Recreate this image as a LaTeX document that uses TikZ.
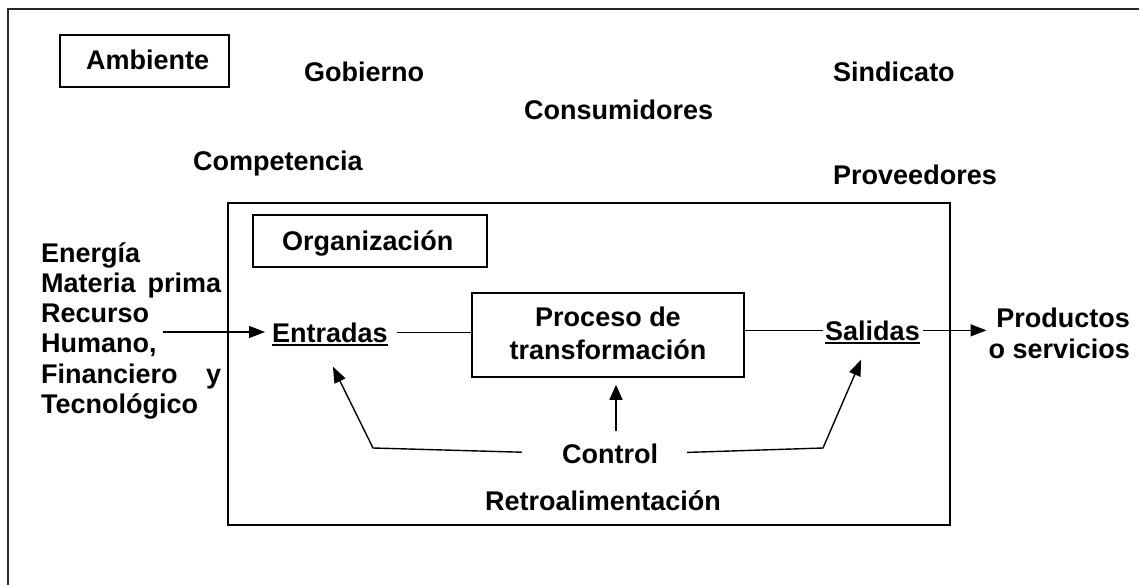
\documentclass[tikz,border=0pt]{standalone}
\usepackage{fontspec}
\setmainfont{Liberation Sans}
\usetikzlibrary{arrows.meta}
\begin{document}
\begin{tikzpicture}[x=1pt,y=-1pt,
  txt/.style={inner sep=0pt, font=\fontsize{27}{31}\selectfont\bfseries},
  box/.style={draw, line width=1.6pt, inner sep=0pt},
  ln/.style={line width=1.4pt},
  arr/.style={ln, -{Triangle[length=16pt,width=12pt]}},
  uline/.style={line width=2pt}]
\useasboundingbox (0,0) rectangle (1139,585);
% outer frame (only top and left visible)
\draw[line width=2pt, black!85] (8,585) -- (8,9) -- (1139,9);

% Ambiente
\node[box, minimum width=169pt, minimum height=52pt] (ambbox) at (144.5,61) {};
\node[txt, anchor=base west] (amb) at (86,70) {Ambiente};

% environment texts
\node[txt, anchor=base west] (gob) at (304,82) {Gobierno};
\node[txt, anchor=base west] (sin) at (833,82) {Sindicato};
\node[txt, anchor=base west] (con) at (524,120) {Consumidores};
\node[txt, anchor=base west] (com) at (193,171) {Competencia};
\node[txt, anchor=base west] (pro) at (833,185) {Proveedores};

% organization
\node[box, minimum width=722pt, minimum height=322pt] (org) at (589,364) {};
\node[box, minimum width=234pt, minimum height=52pt] (orgbox) at (370,241) {};
\node[txt, anchor=base west] (orgt) at (282,250) {Organización};

% inputs text block
\node[txt, anchor=base west] (in1) at (41,262) {Energía};
\node[txt, anchor=base west] (in2) at (41,292) {\makebox[180pt][s]{Materia prima}};
\node[txt, anchor=base west] (in3) at (41,322) {Recurso};
\node[txt, anchor=base west] (in4) at (41,352.5) {Humano,};
\node[txt, anchor=base west] (in5) at (41,383) {\makebox[180pt][s]{Financiero y}};
\node[txt, anchor=base west] (in6) at (41,413) {Tecnológico};
\coordinate (inL) at (163,332);

% Entradas
\node[txt, anchor=base west] (ent) at (272,342) {Entradas};
\draw[uline] ([yshift=-3pt]ent.base west) -- ([yshift=-3pt]ent.base east);

% Proceso
\node[box, minimum width=272pt, minimum height=84pt] (proc) at (608,335) {};
\node[txt, anchor=base] (proc1) at (608,326) {Proceso de};
\node[txt, anchor=base] (proc2) at (608,359) {transformación};

% Salidas
\node[txt, anchor=base west] (sal) at (825,340) {Salidas};
\draw[uline] ([yshift=-3pt]sal.base west) -- ([yshift=-3pt]sal.base east);

% Productos
\node[txt, anchor=base east] (prodA) at (1130,327) {Productos};
\node[txt, anchor=base east] (prodB) at (1130,358) {o servicios};

% Control and feedback
\node[txt, anchor=base] (ctrl) at (610,463) {Control};
\node[txt, anchor=base] (retro) at (603,510) {Retroalimentación};
\coordinate (fbL) at (373,448);
\coordinate (fbR) at (823,448);

% connectors
\draw[arr, shorten >=7pt] (inL) -- (inL -| ent.west);
\draw[ln, shorten <=9pt] (ent.east) -- (ent.east -| proc.west);
\draw[ln, shorten >=2pt] (proc.east |- sal.west) -- (sal.west);
\draw[arr, shorten <=3pt, shorten >=2pt] (sal.east) -- (sal.east -| prodB.west);
\draw[ln, -{Triangle[length=15pt,width=13pt]}, shorten <=12pt, shorten >=7pt]
  ([xshift=6pt]ctrl.north) -- ([xshift=6pt]ctrl.north |- proc.south);
\draw[arr, shorten <=40pt, shorten >=27pt, line join=miter]
  (ctrl.west) -- (fbL) -- ([xshift=-9pt]ent.south);
\draw[arr, shorten <=29pt, shorten >=21pt, line join=miter]
  (ctrl.east) -- (fbR) -- ([xshift=-3pt]sal.south);
\end{tikzpicture}
\end{document}
